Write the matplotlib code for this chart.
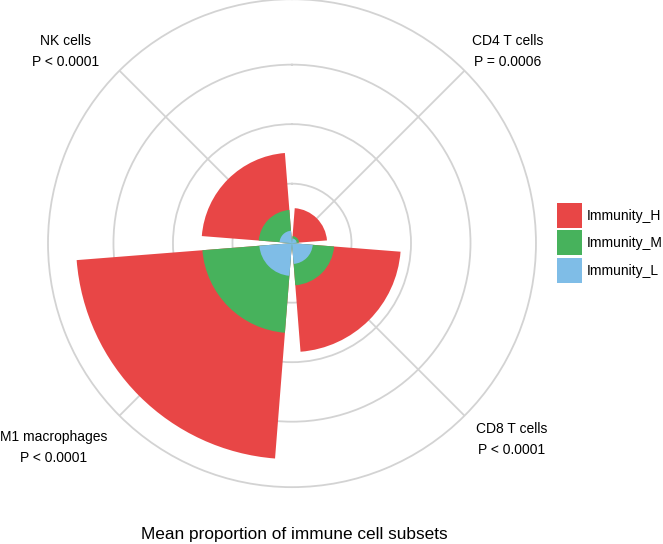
import matplotlib.pyplot as plt
import numpy as np
from matplotlib.patches import Patch

plt.rcParams['font.family'] = ['Liberation Sans', 'DejaVu Sans']

# categories clockwise from top
cells = ['CD4 T cells', 'CD8 T cells', 'M1 macrophages', 'NK cells']
pvals = ['P = 0.0006', 'P < 0.0001', 'P < 0.0001', 'P < 0.0001']

# mean proportion per immunity group
immunity_h = [0.059, 0.183, 0.363, 0.152]
immunity_m = [0.012, 0.071, 0.151, 0.056]
immunity_l = [0.008, 0.035, 0.055, 0.021]

groups = ['Immunity_H', 'Immunity_M', 'Immunity_L']
colors = ['#E84646', '#47B25C', '#7FBDE7']

fig = plt.figure(figsize=(6.63, 5.44), dpi=100)
ax = fig.add_axes([0.0724, 0.1045, 0.736, 0.897], projection='polar')
ax.set_theta_zero_location('N')
ax.set_theta_direction(-1)

theta = np.deg2rad(45 + 90 * np.arange(len(cells)))
w = np.deg2rad(90) * 0.9

for vals, c in zip([immunity_h, immunity_m, immunity_l], colors):
    ax.bar(theta, vals, width=w, color=c, linewidth=0, zorder=3)

rmax = 0.41
ax.set_ylim(0, rmax)
ax.set_yticks([0.1, 0.2, 0.3])
ax.set_xticks(theta)
ax.set_yticklabels([])
ax.set_xticklabels([])
ax.tick_params(length=0)
ax.grid(True, color='#D3D3D3', linewidth=1.3)
ax.spines['polar'].set_color('#D3D3D3')
ax.spines['polar'].set_linewidth(1.3)
ax.set_axisbelow(True)

# labels outside the circle
offsets = [(43, 19), (47, -24), (-66, -32), (-54, 19)]
for t, name, p, off in zip(theta, cells, pvals, offsets):
    ax.annotate(name + '\n' + p, xy=(t, rmax), xytext=off,
                textcoords='offset pixels', ha='center', va='center',
                fontsize=10, linespacing=1.6, annotation_clip=False)

handles = [Patch(facecolor=c, edgecolor='none') for c in colors]
fig.legend(handles, groups, loc='upper left', bbox_to_anchor=(0.840, 0.627),
           frameon=False, fontsize=10, borderpad=0, borderaxespad=0,
           handlelength=1.8, handleheight=2.39, labelspacing=0.18,
           handletextpad=0.32)

fig.text(294 / 663, 1 - 534.7 / 544, 'Mean proportion of immune cell subsets',
         ha='center', va='center', fontsize=12.4)

fig.savefig('out.png', dpi=100)
